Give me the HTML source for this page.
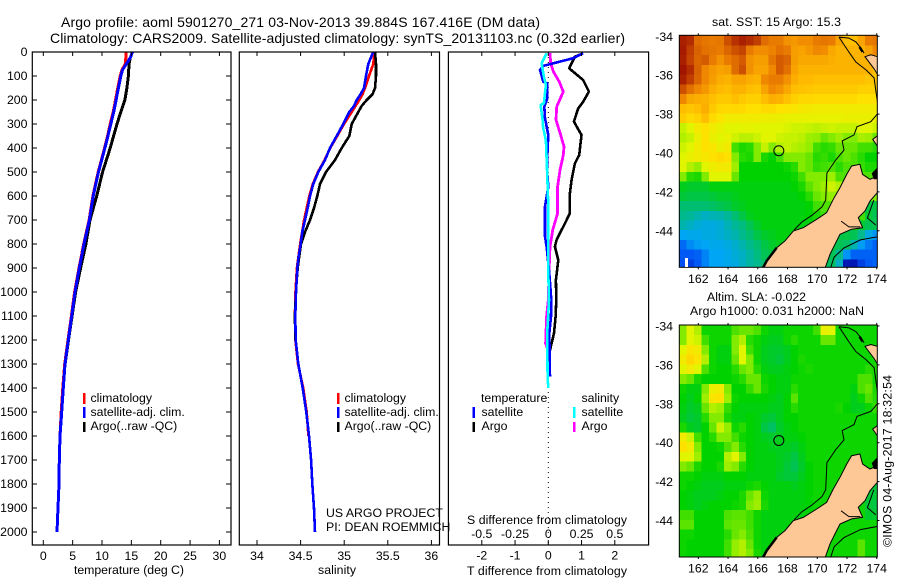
<!DOCTYPE html>
<html lang="en">
<head>
<meta charset="utf-8">
<title>Argo profile 5901270_271</title>
<style>
html,body{margin:0;padding:0;background:#fff;}
svg{display:block;}
text{font-family:"Liberation Sans",sans-serif;font-size:12.3px;fill:#000;}
.t{font-size:14px;}
</style>
</head>
<body>
<svg id="chart" width="900" height="580" viewBox="0 0 900 580" xmlns="http://www.w3.org/2000/svg">
<defs>
<clipPath id="clip-map1"><rect x="679.3" y="35.3" width="198" height="232"/></clipPath>
<clipPath id="clip-map2"><rect x="679.3" y="325" width="198" height="232"/></clipPath>
</defs>
<text class="t" x="61" y="27" textLength="479">Argo profile: aoml 5901270_271 03-Nov-2013 39.884S 167.416E (DM data)</text>
<text class="t" x="50" y="43" textLength="575">Climatology: CARS2009. Satellite-adjusted climatology: synTS_20131103.nc (0.32d earlier)</text>

<g id="panel-temp"></g>
<g id="panel-sal"></g>
<g id="panel-diff"></g>
<g id="map-sst"></g>
<g id="map-sla"></g>

<text x="74" y="574" textLength="110">temperature (deg C)</text>
<text x="318" y="574" textLength="38">salinity</text>
<text x="467" y="575" textLength="160">T difference from climatology</text>
<text x="467" y="524" textLength="160">S difference from climatology</text>

<g>
<rect x="83" y="393" width="2.5" height="11" fill="#f00"/>
<rect x="83" y="407" width="2.5" height="11" fill="#00f"/>
<rect x="83" y="422" width="2.5" height="10" fill="#000"/>
<text x="90.5" y="402">climatology</text>
<text x="90.5" y="416">satellite-adj. clim.</text>
<text x="90.5" y="430">Argo(..raw -QC)</text>
</g>
<g>
<rect x="337" y="393" width="2.5" height="11" fill="#f00"/>
<rect x="337" y="407" width="2.5" height="11" fill="#00f"/>
<rect x="337" y="422" width="2.5" height="10" fill="#000"/>
<text x="344.5" y="402">climatology</text>
<text x="344.5" y="416">satellite-adj. clim.</text>
<text x="344.5" y="430">Argo(..raw -QC)</text>
</g>
<g>
<text x="481" y="402">temperature</text>
<text x="481.5" y="416">satellite</text>
<text x="481.5" y="430">Argo</text>
<text x="581.5" y="402">salinity</text>
<text x="581.5" y="416">satellite</text>
<text x="581.5" y="430">Argo</text>
<rect x="472.5" y="407" width="2.5" height="11" fill="#00f"/>
<rect x="472.5" y="422" width="2.5" height="10" fill="#000"/>
<rect x="573" y="407" width="2.5" height="11" fill="#0ff"/>
<rect x="573" y="422" width="2.5" height="10" fill="#f0f"/>
</g>
<text x="326" y="517">US ARGO PROJECT</text>
<text x="326" y="531">PI: DEAN ROEMMICH</text>

<text x="712" y="26" textLength="129">sat. SST: 15 Argo: 15.3</text>
<text x="707" y="301" textLength="99">Altim. SLA: -0.022</text>
<text x="690" y="315" textLength="174">Argo h1000: 0.031 h2000: NaN</text>
<text transform="translate(891.5,547) rotate(-90)" textLength="172">©IMOS 04-Aug-2017 18:32:54</text>
</svg>

<script>
// ---- temperature profile data ----
const satDepthsT = [0,25,47,75,100,150,200,250,300,350,400,450,500,550,600,700,800,900,1000,1100,1200,1300,1400,1500,1600,1700,1800,1900,2000];
const climTemp = [14.1,14.05,14.0,13.4,13.1,12.7,12.3,11.9,11.4,10.95,10.45,9.9,9.35,8.9,8.45,7.8,6.88,6.08,5.33,4.78,4.2,3.65,3.33,3.05,2.85,2.73,2.67,2.5,2.33];
const satTemp = [15.2,14.8,14.2,13.5,13.2,12.8,12.4,12.0,11.5,11.0,10.5,9.95,9.4,8.95,8.5,7.85,6.93,6.13,5.4,4.84,4.26,3.7,3.4,3.13,2.85,2.73,2.67,2.5,2.33];
const argoDepthsT = [0,25,50,100,150,200,250,300,400,500,600,700,800,900,1000,1100,1200,1300];
const argoTemp = [15.2,14.8,14.6,14.5,14.25,13.9,13.2,12.55,11.4,10.1,9.1,7.95,7.25,6.35,5.5,4.9,4.3,3.72];

// ---- salinity profile data ----
const satDepthsS = [0,25,50,100,150,175,200,225,250,300,350,400,450,500,550,600,650,700,750,800,850,900,950,1000,1100,1200,1300,1400,1500,1600,1700,1800,1900,2000];
const satSal = [35.334,35.304,35.276,35.25,35.227,35.189,35.143,35.112,35.059,34.99,34.914,34.837,34.78,34.703,34.646,34.608,34.581,34.55,34.52,34.501,34.478,34.462,34.455,34.447,34.439,34.444,34.474,34.524,34.565,34.596,34.62,34.634,34.654,34.665];
const climDepthsS = [0,50,100,150,175,200,250,300,350,400,450,500,550,600,700,800,900,1000,1100,1200,1300,1400,1500,1600];
const climSal = [35.345,35.334,35.284,35.239,35.212,35.173,35.086,34.998,34.92,34.84,34.775,34.7,34.64,34.6,34.54,34.495,34.458,34.442,34.435,34.44,34.47,34.53,34.57,34.59];
const argoDepthsS = [0,50,100,150,175,200,225,250,300,350,400,450,500,550,600,650,700,750,800,850,900,950,1000,1100,1200];
const argoSal = [35.353,35.365,35.365,35.353,35.327,35.258,35.2,35.162,35.086,35.058,34.971,34.894,34.791,34.722,34.692,34.654,34.608,34.55,34.505,34.485,34.467,34.455,34.447,34.435,34.44];

// ---- difference profile data ----
const diffDepthsTArgo = [5,20,47,68,82,117,165,207,235,290,346,429,464,533,589,672,714,783,811,867,950,1033,1103,1172,1242];
const diffTArgo = [1.05,0.8,0.7,0.63,0.75,1.05,1.22,1.05,0.9,0.77,1.0,0.93,0.8,0.7,0.65,0.65,0.5,0.25,0.2,0.3,0.23,0.24,0.22,0.17,0.05];
const diffDepthsTSat = [5,26,58,75,124,131,193,228,276,346,429,506,561,644,769,811,922,1033,1103,1172,1353];
const diffTSat = [1.05,0.75,-0.15,-0.25,-0.15,-0.03,-0.03,-0.12,-0.1,0,-0.03,-0.03,0,-0.1,-0.1,-0.05,0.03,0.09,0.08,0.03,0.05];
const diffDepthsSSat = [5,47,103,137,214,221,283,318,367,506,644,783,922,1033,1172,1353,1400];
const diffSSat = [-0.013,-0.05,-0.033,-0.018,-0.033,-0.058,-0.043,-0.038,-0.018,-0.008,0,0,0,0.005,-0.008,-0.005,0];
const diffDepthsSArgo = [5,47,82,124,165,228,283,346,394,429,492,561,672,742,811,922,1033,1103,1214,1249];
const diffSArgo = [0.013,0.018,0.038,0.083,0.113,0.063,0.058,0.093,0.118,0.113,0.088,0.07,0.07,0.033,0.013,0.005,0,-0.013,-0.02,0.003];

// ---- tick labels ----
const depthTicks = [0,100,200,300,400,500,600,700,800,900,1000,1100,1200,1300,1400,1500,1600,1700,1800,1900,2000];
const tempTicks = [0,5,10,15,20,25,30];
const salTicks = [34,34.5,35,35.5,36];
const tDiffTicks = [-2,-1,0,1,2];
const sDiffTicks = [-0.5,-0.25,0,0.25,0.5];
const lonTicks = [162,164,166,168,170,172,174];
const latTicks = [-34,-36,-38,-40,-42,-44];

// ---- map grids: colour-scale level per 0.5 degree cell, north to south ----
const sstLevels = [
[10.8,10.6,9.5,9.3,9.2,9.3,10,10.5,10.8,10.6,10.3,9.5,9.2,9.2,8.8,8.7,8.9,8.9,9.2,9.3,9.2,8.5,8,8,8.5,9.2,9.3],
[10.9,10.3,9.7,9.4,9.3,9.2,9.6,10,10.2,9.2,8.9,8.9,9.1,9.4,9.2,8.6,8.5,8.7,9,8.9,8.4,8.2,8.2,8.2,8.2,8.5,9],
[10.8,10.2,9.6,9.8,9.2,8.8,9.2,9.5,9.8,8.8,8.6,8.6,9.3,9.8,9.6,8.6,8.4,8.4,8.4,8.4,8.3,8.2,8.2,8.2,8.2,8.2,8.2],
[11,10.6,9.7,9,8.7,8.5,8.6,9.5,10,8.8,8.5,8.5,9,9.8,9.4,8.5,8.2,8.2,8.2,8.2,8.2,8.2,8.2,8.2,8.2,8.2,8],
[10.8,10.3,9.6,9,8.6,8.3,8.2,8.5,8.5,8.3,8.2,9,9.2,9.2,8.8,8.3,8.1,8.1,8,8,8,8,8,8,8,7.8,7.8],
[10,9.4,9,8.7,8.3,8.1,8,8.2,8.2,8,7.9,8.5,9,8.8,8.4,8,7.9,7.8,7.7,7.7,7.7,7.7,7.7,7.7,7.5,7.5,7.5],
[9,8.4,8.3,8.2,8,7.7,7.7,8,7.7,7.5,7.5,8,8.3,8.2,7.9,7.5,7.3,7.3,7.2,7.2,7.2,7.2,7.2,7.2,7,7,7],
[8,7.8,8,8.3,7.7,7.3,7.2,7.3,7.2,7,7,7.2,7.2,7,6.9,6.8,6.7,6.6,6.5,6.5,6.5,6.5,6.5,6.5,6.5,6.5,6.5],
[7.6,7.2,7.4,8,7.2,6.8,6.5,6.5,6.5,6.5,6.5,6.4,6.4,6.3,6.2,6.2,6.2,6.2,6.2,6.2,6.2,6.2,6.3,6.3,6.3,6.3,6.3],
[5.7,6,6.6,7,6.5,6.3,6,6,6.1,6.1,6,6,6,6,5.9,5.8,5.8,5.7,5.6,5.7,5.8,5.7,5.7,5.7,6,6,5.8],
[5.5,5.7,6.3,7,6.3,6,6.2,5.8,5.6,5.6,5.8,6,6,5.8,5.7,5.7,5.6,5.3,5.2,4.8,5,5.3,5,5,5.4,5.3,4.8],
[5.8,6,6.5,7,6.8,6.3,6.6,4.5,4.2,4.3,5,5.7,5,5.5,5.7,5.5,5.4,5.2,4.5,4.3,4.4,4.8,4.8,4.8,4.5,4.5,4.3],
[6,6.3,6.5,6.7,7,7.2,7,5,4.3,4.2,5,4.2,4,4.5,5,5,5,4.8,4.3,4.4,4.2,4.6,4.8,4.6,4.3,4,4],
[6,5.5,5.2,6,6.4,6.6,6.5,5.3,4,4,4,4,4,4,4.1,4.3,5,4.8,4.4,4.5,4.6,4.3,4.6,4.6,4.4,4.2,4.2],
[5,4.3,4.2,5,6,6,6,4.8,4,4,4,4,4,4,4,4.1,4.5,5,5,5,5.3,4.6,4.6,4.6,4.6,4.6,4.6],
[3.8,3.7,3.7,3.7,3.9,3.9,3.9,3.9,3.9,3.9,3.9,3.9,3.9,3.9,3.9,4,4.2,4.7,5,5.3,5.8,5.5,5,5,5,5,5],
[3.6,3.5,3.5,3.5,3.6,3.7,3.7,3.8,3.9,3.9,3.9,3.9,3.9,3.9,3.9,3.9,4,4.3,4.8,5,5.2,5,5,5,5,5,5],
[3.2,3.2,3.2,3.2,3.3,3.4,3.5,3.7,3.8,3.9,3.9,3.9,3.9,3.9,3.9,3.9,3.9,4,4.5,4.6,4.6,4.6,4.6,4.6,4.6,3.5,3.5],
[3,2.9,2.7,2.5,2.6,2.7,2.9,3.2,3.5,3.8,3.9,3.9,3.9,3.9,3.9,3.9,3.9,4,4.2,4.5,4.5,4.5,4.5,4.5,4.5,3.6,3.4],
[2.7,2.5,2.3,2.2,2.2,2.3,2.6,2.9,3.1,3.4,3.7,3.9,3.9,3.9,3.9,3.9,3.9,3.9,4,4.2,4.2,4.2,4.2,4.2,3.6,3.4,3.4],
[2,2.1,2.1,2.2,2.2,2.3,2.5,2.7,3,3.2,3.5,3.7,3.8,3.9,3.9,3.9,3.9,3.9,3.9,3.9,3.9,3.5,3.5,3.4,3,2.2,1.8],
[1.3,1.7,1.9,2,2.1,2.1,2.2,2.4,2.7,3,3.2,3.5,3.7,3.8,3.8,3.8,3.8,3.8,3.8,3.8,3.6,3.4,3.3,2.7,1.9,1.5,1.2],
[1.1,1.1,1.2,1.6,2,2,2.1,2.3,2.5,2.8,3.1,3.4,3.5,3.7,3.7,3.7,3.7,3.7,3.7,3.7,3.4,3,1.8,1.2,1.2,1.2,1.2],
[1,0.8,1.1,1.6,2,2,2.1,2.2,2.5,2.8,3,3.2,3.5,3.7,3.7,3.7,3.7,3.7,3.7,3.5,3.3,2.5,0.3,0.3,0.8,1.1,1.2]
];
const slaLevels = [
[5,6,5.5,4.1,4.1,4.1,4.1,4.6,4.8,4.8,4.6,4.1,3.9,3.9,4.1,4.1,4.1,4.1,4.5,6.3,6,4.1,4.1,4.1,4.1,4.1,4.1],
[5,6,5.8,4.5,4.1,4.1,4.1,5,5.5,4.3,4.1,3.9,3.8,3.8,4.1,4.3,4.1,4.1,4.1,4.8,4.8,4.1,4.1,4.1,4.1,4.1,4.1],
[6,6.8,6.5,5,4.1,3.9,3.9,5,6,4.5,4.1,3.8,3.7,3.7,3.8,4,4.1,4.1,4.1,4.1,4.1,4.1,4.1,4.1,4.1,4.1,4.1],
[6.5,7.3,6.8,5.5,4.1,3.9,3.9,4.8,6,5,4.1,3.8,3.7,3.6,3.8,4,4.2,4.1,4.1,4.1,4.1,4.1,4.1,4.1,4.1,4.1,4.1],
[6,6.5,6,4.6,4.1,4,4,4.3,4.8,5,4.3,3.9,3.8,3.8,3.9,4,4.1,4.2,4.1,4.1,4.1,4.1,4.1,4.1,4.1,4.3,4.2],
[5,4.8,4.2,4,4,4,4,4.1,4.3,4.8,4.8,4.1,4,3.9,3.9,4.1,4.1,4.1,4.1,4.1,4.1,4.1,4.1,4.1,4.6,4.6,4.1],
[4.1,3.9,3.9,5,6.3,6.5,5,4,4,4.4,4.8,4.2,4,3.9,3.9,4.3,4.1,4.1,4.1,4.1,4.1,4.1,4.1,3.9,4.6,4.8,4.2],
[4,3.8,4,5.3,6.8,7,5.3,4.1,4,4,4,4,3.9,3.8,4,4.7,4.1,4.1,4.1,4.1,4.1,4.1,4.1,3.8,4.1,4.6,4.3],
[3.9,3.7,3.8,4.8,5.5,5.3,4.4,4,3.9,3.9,3.9,3.9,3.8,3.8,4,4.3,4.1,4.1,4.1,4.1,4.1,4.2,4,3.8,3.8,4.1,4.4],
[3.8,3.6,3.7,4.3,5,5,4.2,3.9,3.9,4,3.9,3.7,3.6,3.8,4,4,4.1,4.1,4.1,4.1,4.1,4.1,4.1,4.1,4.1,4.1,4.1],
[4.2,3.8,3.7,4,4.8,5.8,5.2,4.1,4.3,4,3.9,3.5,3.3,3.7,3.9,4,4.1,4.1,4.1,4.1,4.1,4.1,4.1,4.1,4.1,4.1,4.1],
[6.5,5.8,4.5,4,4.3,5,5,4.5,4.1,4,3.9,3.8,3.7,3.8,3.9,3.9,4,4.1,4.1,4.1,4.1,4.1,4.1,4.1,4.1,4.1,4.1],
[7,6.5,5,4,4,4.1,4.6,5,4.3,4,3.9,3.9,3.8,3.8,3.8,3.7,3.9,4.1,4.1,4.1,4.1,4.1,4.1,4.1,4.1,4.1,4.1],
[6,6,5.3,4,4,4,5.5,6,5,4,3.9,3.9,3.9,3.8,3.7,3.5,3.8,4.1,4.1,4.1,4.1,4.1,4.1,4.1,4.1,4.1,4.1],
[5,4.8,4.2,4,4,4.2,5.3,5,4.3,4,3.9,3.9,3.9,3.8,3.6,3.4,3.7,4,4.1,4.1,4.1,4.1,4.1,4.1,4.1,4.1,4.1],
[4.1,4.1,4,3.9,3.9,3.9,4,4,4,3.9,3.9,3.9,3.9,3.7,3.6,3.6,3.8,4,4.1,4.1,4.1,4.1,4.1,4.1,4.1,4.1,4.1],
[4.1,4,3.9,3.8,3.8,3.8,3.9,3.9,3.9,4.1,4.2,4,3.9,3.9,3.9,3.8,3.9,4,4.1,4.1,4.1,4.1,4.1,4.1,4.1,3.7,3.6],
[4,3.9,3.8,3.8,3.8,3.9,4,4,4.2,4.8,5.2,4.1,3.9,3.9,3.9,3.9,3.9,4,4.1,4.1,4.1,4.1,4.1,4.1,4.1,3.6,3.6],
[4,3.9,3.8,3.9,4,4,4,4.1,4.2,5,5.3,4.2,3.9,3.9,3.9,3.9,3.9,4,4.1,4.1,4.1,4.1,4.1,4.1,4.1,3.6,3.5],
[4.5,4.5,4,4,4,4,4.6,4.7,4.7,4.5,4.1,3.9,3.9,3.9,3.9,3.9,3.9,4,4.1,4.1,4.1,4.1,4.1,4.1,4.1,3.7,3.7],
[4.7,4.7,4,4,4,4,4.7,4.8,4.8,4.5,4.1,3.9,3.9,3.9,3.9,3.9,3.9,3.9,4.1,4.1,4.1,4.1,4.1,4.1,4.1,4.1,4.1],
[4.1,4.1,4,4,4,4,4.3,4.8,5,4.6,4.1,3.9,3.9,3.9,3.9,3.9,3.9,3.9,4.1,4.1,4.1,4.1,4.1,4.1,4.1,4.1,4.1],
[4.1,4,4,4,4,4,4.5,5.2,5.5,4.8,4.1,3.9,3.9,3.9,3.9,3.9,3.9,3.9,4.1,4.1,4.1,4.1,4.1,4.1,4.7,4.1,4.1],
[4.1,4,4,4,4,4,4.5,5.2,5.5,5,4.2,3.9,3.9,3.9,3.9,3.9,3.9,3.9,4.1,4.1,4.1,4.1,4.1,4.1,4.7,4.1,4.1]
];

// ---- geography: [lon, lat] ----
const southIsland = [[166.33,-45.93],[166.6,-45.55],[167.27,-44.87],[167.83,-44.52],[168.39,-44.01],[169.06,-43.84],[169.96,-43.41],[170.63,-43.07],[171.08,-42.38],[171.53,-41.78],[171.98,-41.10],[172.31,-40.67],[172.87,-40.58],[173.05,-41.10],[173.55,-41.35],[174.04,-41.18],[174.44,-41.95],[174.04,-42.04],[173.55,-42.47],[173.21,-42.98],[172.76,-43.32],[173.05,-43.84],[172.31,-43.92],[171.53,-44.18],[171.19,-44.69],[170.86,-45.21],[170.52,-45.93]];
const northIslandTip = [[173.21,-35.05],[173.6,-34.95],[174.3,-35.1],[174.3,-36.25],[173.8,-35.65]];
const taranaki = [[174.2,-39.12],[174.04,-39.12],[173.73,-39.30],[174.04,-39.64],[174.2,-39.64]];
const straitBlob = [[173.66,-41.05],[174.04,-40.75],[174.2,-40.75],[174.2,-41.35],[173.8,-41.35]];
const shelfNorth = [[171.46,-34.04],[172.13,-34.81],[172.6,-35.32],[173.28,-35.73],[173.82,-36.14],[173.95,-36.86],[174.15,-37.9],[173.6,-38.39],[172.67,-38.65],[172.47,-39.07],[171.68,-39.38],[171.8,-39.85],[171.24,-40.36],[170.65,-41.03],[170.57,-42.42],[170.32,-42.77],[169.65,-43.2],[168.97,-43.55],[168.44,-43.96]];
const shelfTop = [[171.46,-34.04],[172.13,-34.09],[172.6,-34.29],[172.93,-34.6],[173.15,-34.87]];
const shelfSouth = [[174.1,-44.3],[172.9,-44.47],[171.8,-44.88],[171.13,-45.35],[170.9,-45.9]];
const shelfEast = [[173.8,-42.42],[173.37,-43.34],[173.93,-43.7]];
const inletLine = [[171.6,-43.5],[172.13,-43.8],[172.9,-43.8]];
const fiordCoast = [[166.33,-45.93],[166.6,-45.55],[167.27,-44.87]];
const northFiord = [[172.85,-34.55],[173.05,-34.8]];
const floatPosition = [167.416,-39.884];

// ---- colour scale ----
const colourStops = [[0,0,150],[0,80,245],[0,165,245],[0,185,140],[0,210,0],[130,235,0],[225,245,0],[255,225,0],[255,190,0],[240,135,0],[205,80,0],[160,20,0]];

const NS = 'http://www.w3.org/2000/svg';
function mk(parent, tag, attrs, txt){
  const e = document.createElementNS(NS, tag);
  for (const k in attrs) e.setAttribute(k, attrs[k]);
  if (txt !== undefined) e.textContent = txt;
  parent.appendChild(e);
  return e;
}
const depthY = d => 52 + d * 0.24;
const tempX = v => 43.3 + v * 5.87;
const salX = v => 257 + (v - 34) * 87.2;
const tDiffX = v => 548.3 + v * 33.25;
const sDiffX = v => 548.3 + v * 133;
const lonX = v => 698.3 + (v - 162) * 14.87;
const latY = v => 36.3 + (-34 - v) * 19.45;

function profile(parent, depths, vals, xFn, colour, width, name){
  const pts = depths.map((d, i) => xFn(vals[i]).toFixed(1) + ',' + depthY(d).toFixed(1)).join(' ');
  const line = mk(parent, 'polyline', {points: pts, fill: 'none', stroke: colour, 'stroke-width': width, 'shape-rendering': 'crispEdges', 'stroke-linejoin': 'round'});
  
  
}
function frame(parent, x0, x1, name){
  const r = mk(parent, 'rect', {x: x0, y: 52, width: x1 - x0, height: 493, fill: 'none', stroke: '#000', 'stroke-width': 1.2});
  
  
}
function xTicks(parent, ticks, xFn, labelY, name){
  ticks.forEach(t => {
    const x = xFn(t);
    const a = mk(parent, 'line', {x1: x, x2: x, y1: 52, y2: 56, stroke: '#000'});
    
    
    const b = mk(parent, 'line', {x1: x, x2: x, y1: 540, y2: 545, stroke: '#000'});
    
    
    const l = mk(parent, 'text', {x: x, y: labelY, 'text-anchor': 'middle'}, String(t));
    
    
  });
}

// temperature panel
const gT = document.getElementById('panel-temp');
profile(gT, satDepthsT, climTemp, tempX, '#f00', 3, 'temperature-climatology-line');
profile(gT, argoDepthsT, argoTemp, tempX, '#000', 3, 'temperature-argo-line');
profile(gT, satDepthsT, satTemp, tempX, '#00f', 3, 'temperature-satellite-line');
frame(gT, 32.3, 231, 'temperature-plot-frame');
xTicks(gT, tempTicks, tempX, 560, 'temperature-axis');
depthTicks.forEach(d => {
  const y = depthY(d);
  const a = mk(gT, 'line', {x1: 32, x2: 37, y1: y, y2: y, stroke: '#000'});
  
  
  const b = mk(gT, 'line', {x1: 226, x2: 231, y1: y, y2: y, stroke: '#000'});
  
  
  const l = mk(gT, 'text', {x: 27.5, y: y + 4, 'text-anchor': 'end'}, String(d));
  
  
});

// salinity panel
const gS = document.getElementById('panel-sal');
profile(gS, climDepthsS, climSal, salX, '#f00', 2.6, 'salinity-climatology-line');
profile(gS, argoDepthsS, argoSal, salX, '#000', 2.6, 'salinity-argo-line');
profile(gS, satDepthsS, satSal, salX, '#00f', 2.6, 'salinity-satellite-line');
frame(gS, 239.3, 439.5, 'salinity-plot-frame');
xTicks(gS, salTicks, salX, 560, 'salinity-axis');

// difference panel
const gD = document.getElementById('panel-diff');
const zero = mk(gD, 'line', {x1: tDiffX(0), x2: tDiffX(0), y1: 52, y2: 545, stroke: '#000', 'stroke-dasharray': '1 4'});


profile(gD, diffDepthsTArgo, diffTArgo, tDiffX, '#000', 2.6, 'difference-t-argo-line');
profile(gD, diffDepthsSArgo, diffSArgo, sDiffX, '#f0f', 2.8, 'difference-s-argo-line');
profile(gD, diffDepthsTSat, diffTSat, tDiffX, '#00f', 2.6, 'difference-t-satellite-line');
profile(gD, diffDepthsSSat, diffSSat, sDiffX, '#0ff', 2.6, 'difference-s-satellite-line');
frame(gD, 448.4, 648.6, 'difference-plot-frame');
xTicks(gD, tDiffTicks, tDiffX, 559.5, 't-difference-axis');
sDiffTicks.forEach(t => {
  const l = mk(gD, 'text', {x: sDiffX(t), y: 538, 'text-anchor': 'middle'}, String(t));
  
  
});

// maps
function levelColour(v){
  const i = Math.min(Math.floor(v), colourStops.length - 2), f = v - i;
  const a = colourStops[i], b = colourStops[i + 1];
  return 'rgb(' + a.map((c, k) => Math.round(c + (b[k] - c) * f)).join(',') + ')';
}
function drawMap(id, levels, dy, clipId, name){
  const g = document.getElementById(id);
  const body = mk(g, 'g', {'clip-path': 'url(#' + clipId + ')'});
  
  
  levels.forEach((row, j) => row.forEach((v, i) => {
    const x = lonX(160.72 + i * 0.5), y = latY(-33.97 - j * 0.5) + dy;
    const c = mk(body, 'rect', {x: x.toFixed(2), y: y.toFixed(2), width: 7.9, height: 10.2, fill: levelColour(v), 'shape-rendering': 'crispEdges'});
    
    
  }));
  const proj = arr => arr.map(p => lonX(p[0]).toFixed(1) + ',' + (latY(p[1]) + dy).toFixed(1)).join(' ');
  [southIsland, northIslandTip, taranaki].forEach(poly => {
    const land = mk(body, 'polygon', {points: proj(poly), fill: '#fdc896', stroke: '#000', 'stroke-width': 1});
    
    
  });
  const blob = mk(body, 'polygon', {points: proj(straitBlob), fill: '#000'});
  
  
  [shelfNorth, shelfTop, shelfSouth, shelfEast, inletLine].forEach(line => {
    const s = mk(body, 'polyline', {points: proj(line), fill: 'none', stroke: '#000', 'stroke-width': 1});
    
    
  });
  [fiordCoast, northFiord].forEach(line => {
    const fiord = mk(body, 'polyline', {points: proj(line), fill: 'none', stroke: '#000', 'stroke-width': 2.5});
    
    
  });
  const marker = mk(body, 'circle', {cx: lonX(floatPosition[0]), cy: latY(floatPosition[1]) + dy, r: 5, fill: 'none', stroke: '#000', 'stroke-width': 1});
  
  
  const top = 35.3 + dy, bottom = 267.3 + dy;
  const border = mk(g, 'rect', {x: 679.3, y: top, width: 198, height: 232, fill: 'none', stroke: '#000', 'stroke-width': 1});
  
  
  lonTicks.forEach(t => {
    const x = lonX(t);
    const a = mk(g, 'line', {x1: x, x2: x, y1: top - 2, y2: top, stroke: '#000'});
    
    
    const b = mk(g, 'line', {x1: x, x2: x, y1: bottom, y2: bottom + 2, stroke: '#000'});
    
    
    const l = mk(g, 'text', {x: x, y: bottom + 15.5, 'text-anchor': 'middle'}, String(t));
    
    
  });
  latTicks.forEach(t => {
    const y = latY(t) + dy;
    const a = mk(g, 'line', {x1: 877.3, x2: 879.5, y1: y, y2: y, stroke: '#000'});
    
    
    const l = mk(g, 'text', {x: 673, y: y + 4.5, 'text-anchor': 'end'}, String(t));
    
    
  });
}
drawMap('map-sst', sstLevels, 0, 'clip-map1', 'sst-map');
drawMap('map-sla', slaLevels, 289.7, 'clip-map2', 'sla-map');
const scaleMark = mk(document.getElementById('map-sst'), 'rect', {x: 685, y: 258, width: 3, height: 9, fill: '#fff'});


</script>
</body>
</html>
